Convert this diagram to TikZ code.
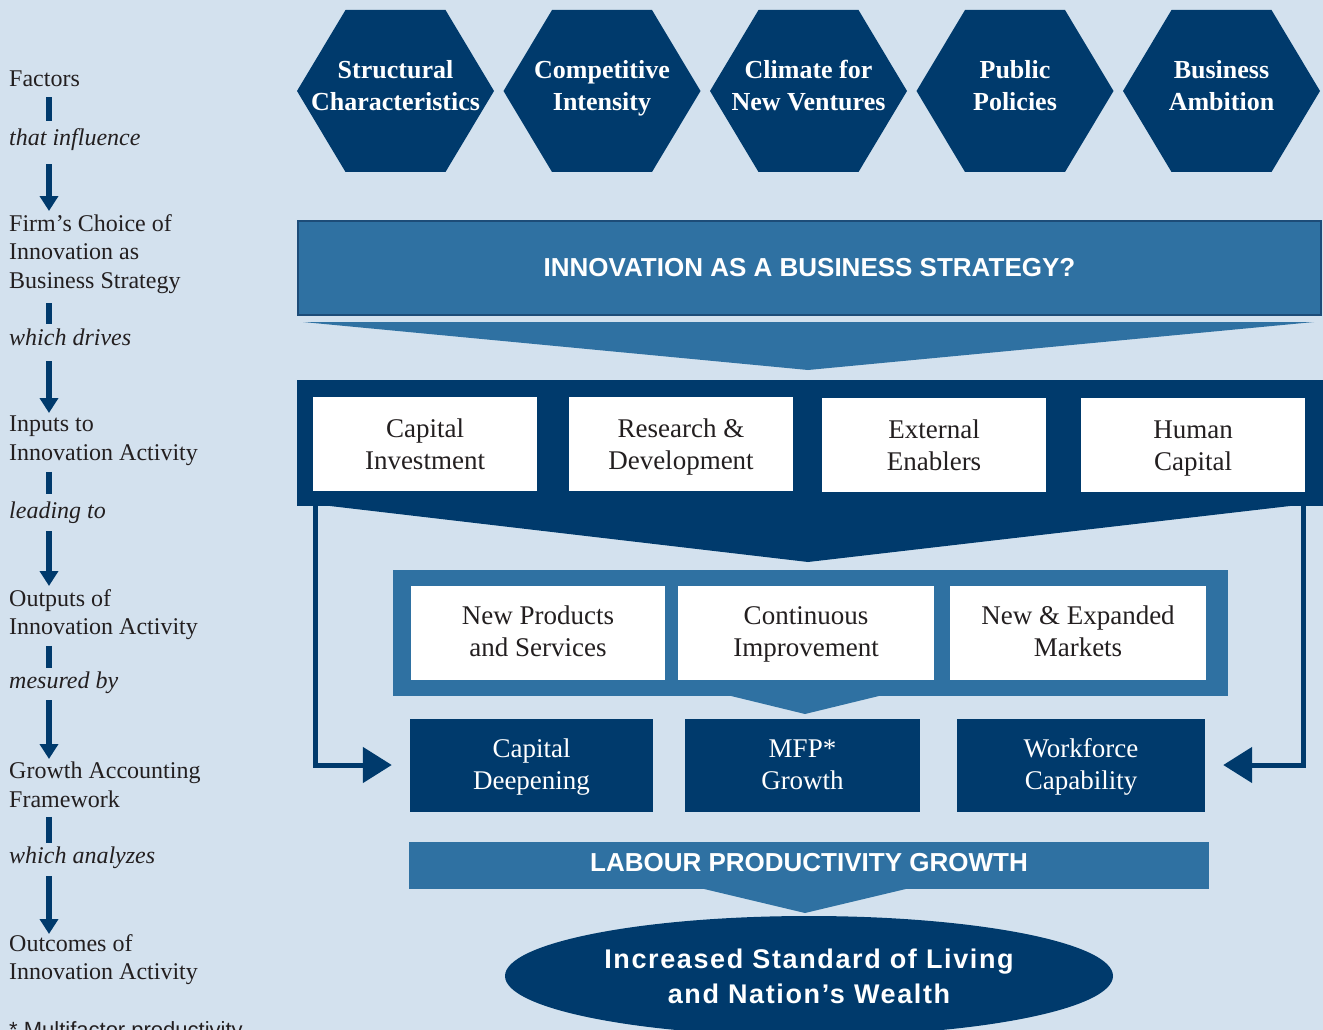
\documentclass[tikz,border=0pt]{standalone}
\usepackage{fontspec}
\setmainfont{Liberation Serif}
\newfontfamily\capsfont{Liberation Sans}
\usetikzlibrary{arrows.meta,shapes.geometric}
\definecolor{bgblue}{HTML}{D3E1EE}
\definecolor{navy}{HTML}{003A6C}
\definecolor{midblue}{HTML}{2F71A2}
\definecolor{edgeblue}{HTML}{1D4C78}
\definecolor{inkgrey}{HTML}{231F20}
\begin{document}
\begin{tikzpicture}[line join=miter,x=1pt,y=-1pt,
	every node/.style={inner sep=0pt},
	lefttext/.style={anchor=north west,align=left,text=inkgrey,font=\fontsize{24}{28.5}\selectfont},
	leftital/.style={lefttext,font=\fontsize{24}{28.5}\selectfont\itshape},
	hextext/.style={anchor=north,align=center,text=white,font=\fontsize{26}{32}\selectfont\bfseries},
	inbox/.style={fill=white,minimum height=94pt,align=center,text=inkgrey,text depth=0pt,text height=51pt,font=\fontsize{27}{32}\selectfont},
	outbox/.style={inbox,text height=46pt},
	resbox/.style={fill=navy,minimum height=93pt,align=center,text=white,text depth=0pt,text height=48pt,font=\fontsize{27}{32}\selectfont},
	bar/.style={draw=navy,line width=6pt,shorten <=8pt,shorten >=5pt},
	flow/.style={draw=navy,line width=6pt,-{Triangle[width=18pt,length=15pt]},shorten <=7pt,shorten >=3pt},
	feed/.style={draw=navy,line width=5pt,-{Triangle[width=35pt,length=29pt]},shorten >=18pt}]
				\useasboundingbox (0,0) rectangle (1323,1030);
				\fill[bgblue] (0,0) rectangle (1323,1030);
				\foreach \cx/\name/\txt in {395.5/struct/{Structural\\Characteristics},602/compet/{Competitive\\Intensity},808.5/climate/{Climate for\\New Ventures},1015/policy/{Public\\Policies},1221.5/ambition/{Business\\Ambition}}{
					\fill[navy] (\cx-98.5,91) -- (\cx-50,10) -- (\cx+50,10) -- (\cx+98.5,91) -- (\cx+50,172) -- (\cx-50,172) -- cycle;
					\node[hextext] (\name) at (\cx,60) {\txt};
				}
				\node[draw=edgeblue,line width=2pt,fill=midblue,minimum width=1023pt,minimum height=94pt,text=white,font=\capsfont\bfseries\fontsize{26}{30}\selectfont] (strategy) at (809.5,268) {INNOVATION AS A BUSINESS STRATEGY?};
				\fill[midblue] (303,322) -- (1314,322) -- (808,370) -- cycle;
				\node[fill=navy,minimum width=1026pt,minimum height=126pt] (inputs) at (810,443) {};
				\fill[navy] (330,500) -- (330,506) -- (808,562) -- (1290,506) -- (1290,500) -- cycle;
				\node[inbox,minimum width=224pt] (capinv) at (425,443.5) {Capital\\Investment};
				\node[inbox,minimum width=224pt] (resdev) at (681,443.5) {Research \&\\Development};
				\node[inbox,minimum width=224pt] (extenab) at (934,444.5) {External\\Enablers};
				\node[inbox,minimum width=224pt] (humcap) at (1193,444.5) {Human\\Capital};
				\node[fill=midblue,minimum width=835pt,minimum height=126pt] (outputs) at (810.5,633) {};
				\fill[midblue] (727,695) -- (805,714) -- (883,695) -- cycle;
				\node[outbox,minimum width=254pt] (newprod) at (538,633) {New Products\\and Services};
				\node[outbox,minimum width=256pt] (contimp) at (806,633) {Continuous\\Improvement};
				\node[outbox,minimum width=256pt] (markets) at (1078,633) {New \& Expanded\\Markets};
				\node[resbox,minimum width=243pt] (capdeep) at (531.5,765) {Capital\\Deepening};
				\node[resbox,minimum width=235pt] (mfpgrowth) at (802.5,765.5) {MFP*\\Growth};
				\node[resbox,minimum width=248pt] (workforce) at (1081,765) {Workforce\\Capability};
				\draw[feed] ([xshift=18.5pt]inputs.south west) |- (capdeep.west);
				\draw[feed] ([xshift=-20pt]inputs.south east) |- (workforce.east);
				\node[fill=midblue,minimum width=800pt,minimum height=47pt,text depth=6pt,text=white,font=\capsfont\bfseries\fontsize{26}{30}\selectfont] (labour) at (809,865.5) {LABOUR PRODUCTIVITY GROWTH};
				\fill[midblue] (700,888) -- (805,913) -- (910,888) -- cycle;
				\node[ellipse,fill=navy,minimum width=608pt,minimum height=120pt,align=center,text=white,font=\capsfont\bfseries\fontsize{27}{35}\selectfont\addfontfeature{LetterSpace=6}] (wealth) at (809,976) {Increased Standard of Living\\and Nation’s Wealth};
				\coordinate (barx) at (49,0);
				\node[lefttext] (factors) at (9,71) {Factors};
				\node[leftital] (influence) at (9,128) {that influence};
				\node[lefttext] (choice) at (9,214) {Firm’s Choice of\\Innovation as\\Business Strategy};
				\node[leftital] (drives) at (9,329) {which drives};
				\node[lefttext] (inputtxt) at (9,416) {Inputs to\\Innovation Activity};
				\node[leftital] (leading) at (9,502) {leading to};
				\node[lefttext] (outputtxt) at (9,589) {Outputs of\\Innovation Activity};
				\node[leftital] (measured) at (9,672) {mesured by};
				\node[lefttext] (gaframe) at (9,762) {Growth Accounting\\Framework};
				\node[leftital] (analyzes) at (9,847) {which analyzes};
				\node[lefttext] (outcomes) at (9,934) {Outcomes of\\Innovation Activity};
				\node[anchor=north west,text=inkgrey,font=\capsfont\fontsize{22}{26}\selectfont] (mfpnote) at (9,1021) {* Multifactor productivity};
				\draw[bar,shorten <=10pt,shorten >=7pt] (factors.south -| barx) -- (influence.north -| barx);
				\draw[flow,shorten <=14pt] (influence.south -| barx) -- (choice.north -| barx);
				\draw[bar,shorten <=10pt] (choice.south -| barx) -- (drives.north -| barx);
				\draw[flow,shorten <=15pt] (drives.south -| barx) -- (inputtxt.north -| barx);
				\draw[bar,shorten <=6pt,shorten >=8pt] (inputtxt.south -| barx) -- (leading.north -| barx);
				\draw[flow] (leading.south -| barx) -- (outputtxt.north -| barx);
				\draw[bar,shorten <=6pt,shorten >=4pt] (outputtxt.south -| barx) -- (measured.north -| barx);
				\draw[flow,shorten <=6pt] (measured.south -| barx) -- (gaframe.north -| barx);
				\draw[bar,shorten <=9pt,shorten >=4pt] (gaframe.south -| barx) -- (analyzes.north -| barx);
				\draw[flow,shorten >=0pt] (analyzes.south -| barx) -- (outcomes.north -| barx);
			\end{tikzpicture}
\end{document}
